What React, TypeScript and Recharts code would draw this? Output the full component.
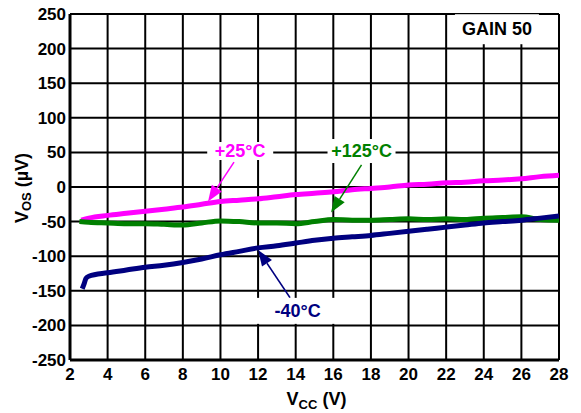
import React from 'react';
import {
  LineChart,
  Line,
  XAxis,
  YAxis,
  CartesianGrid,
  ReferenceLine,
  ReferenceDot,
  Label,
} from 'recharts';

const FONT = '"Liberation Sans", Arial, Helvetica, sans-serif';

// Supply voltage (V) and offset voltage (µV) for each temperature
const vcc25 = [2.6, 3, 4, 5, 6, 7, 8, 9, 10, 11, 12, 13, 14, 15, 16, 17, 18, 19, 20, 21, 22, 23, 24, 25, 26, 27, 28];
const vos25 = [-48, -45, -41, -38, -35, -32, -29, -25, -21, -19, -17, -14, -11, -9, -7, -4, -2, 0, 3, 4, 6, 7, 9, 10, 12, 15, 17];

const vcc125 = [2.5, 3, 4, 5, 6, 7, 8, 9, 10, 11, 12, 13, 14, 15, 16, 17, 18, 19, 20, 21, 22, 23, 24, 25, 26, 27, 28];
const vos125 = [-50, -51, -52, -53, -53, -54, -55, -52, -49, -50, -52, -52, -53, -50, -47, -48, -48, -47, -46, -47, -46, -47, -45, -44, -43, -47, -48];

const vccM40 = [2.65, 2.75, 2.85, 3, 4, 5, 6, 7, 8, 9, 10, 11, 12, 13, 14, 15, 16, 17, 18, 19, 20, 21, 22, 23, 24, 25, 26, 27, 28];
const vosM40 = [-147, -140, -132, -129, -124, -120, -116, -113, -109, -104, -98, -93, -88, -85, -81, -77, -74, -72, -70, -67, -64, -61, -58, -55, -52, -50, -48, -45, -42];

const xTicks = [2, 4, 6, 8, 10, 12, 14, 16, 18, 20, 22, 24, 26, 28];
const yTicks = [-250, -200, -150, -100, -50, 0, 50, 100, 150, 200, 250];

const toPoints = (xs: number[], ys: number[]) => xs.map((x, i) => ({ x, y: ys[i] }));

const series = [
  { name: '+25°C', color: '#FF00FF', data: toPoints(vcc25, vos25) },
  { name: '+125°C', color: '#008000', data: toPoints(vcc125, vos125) },
  { name: '-40°C', color: '#000080', data: toPoints(vccM40, vosM40) },
];

// Callout labels (data coordinates of label centre) with their white backing boxes
const callouts = [
  { text: '+25°C', color: '#FF00FF', x: 11.05, y: 52, w: 66, h: 18, dy: 6 },
  { text: '+125°C', color: '#008000', x: 17.5, y: 52, w: 68, h: 24, dy: 6 },
  { text: '-40°C', color: '#000080', x: 14.1, y: -179, w: 88, h: 26, dy: 6 },
  { text: 'GAIN 50', color: '#000000', x: 24.7, y: 228, w: 84, h: 30, dy: 6 },
];

// Pointer arrows: tail -> tip, in data coordinates
const arrows = [
  { color: '#FF00FF', from: { x: 10.72, y: 36 }, to: { x: 9.34, y: -21 } },
  { color: '#008000', from: { x: 17.5, y: 32 }, to: { x: 15.88, y: -37 } },
  { color: '#000080', from: { x: 13.7, y: -160 }, to: { x: 12.0, y: -91 } },
];

const arrowShape = (color: string) => (p: any) => {
  const { x1, y1, x2, y2 } = p;
  const dx = x2 - x1;
  const dy = y2 - y1;
  const len = Math.hypot(dx, dy) || 1;
  const ux = dx / len;
  const uy = dy / len;
  const hl = 16;
  const hw = 6;
  const bx = x2 - ux * hl;
  const by = y2 - uy * hl;
  const pts = `${x2},${y2} ${bx - uy * hw},${by + ux * hw} ${bx + uy * hw},${by - ux * hw}`;
  return (
    <g>
      <line x1={x1} y1={y1} x2={bx} y2={by} stroke={color} strokeWidth={1.5} />
      <polygon points={pts} fill={color} />
    </g>
  );
};

const calloutShape = (c: (typeof callouts)[number]) => (p: any) => {
  const { cx, cy } = p;
  return (
    <g>
      <rect x={cx - c.w / 2} y={cy - c.h / 2} width={c.w} height={c.h} fill="#FFFFFF" />
      <text
        x={cx}
        y={cy + c.dy}
        textAnchor="middle"
        fill={c.color}
        fontFamily={FONT}
        fontWeight="bold"
        fontSize={18}
      >
        {c.text}
      </text>
    </g>
  );
};

const tickStyle = { fill: '#000000', fontSize: 17, fontWeight: 'bold', fontFamily: FONT };

const YTitle = (props: any) => {
  const vb = props.viewBox || { x: 0, y: 0, width: 0, height: 0 };
  const cx = vb.x + 22;
  const cy = vb.y + vb.height / 2 + 1;
  return (
    <text
      x={cx}
      y={cy}
      transform={`rotate(-90, ${cx}, ${cy})`}
      textAnchor="middle"
      dominantBaseline="central"
      fill="#000000"
      fontFamily={FONT}
      fontWeight="bold"
      fontSize={18}
    >
      <tspan>V</tspan>
      <tspan fontSize={13} dy={4}>OS</tspan>
      <tspan dy={-4}> (µV)</tspan>
    </text>
  );
};

const XTitle = (props: any) => {
  const vb = props.viewBox || { x: 0, y: 0, width: 0, height: 0 };
  const cx = vb.x + vb.width / 2 + 2;
  const cy = vb.y + 45;
  return (
    <text
      x={cx}
      y={cy}
      textAnchor="middle"
      fill="#000000"
      fontFamily={FONT}
      fontWeight="bold"
      fontSize={18}
    >
      <tspan>V</tspan>
      <tspan fontSize={13} dy={4}>CC</tspan>
      <tspan dy={-4}> (V)</tspan>
    </text>
  );
};

export default function App() {
  return (
    <div style={{ position: 'absolute', left: 0, top: 0, background: '#FFFFFF' }}>
      <LineChart width={581} height={413} margin={{ top: 14, right: 22, bottom: 23, left: 0 }}>
        <CartesianGrid stroke="#000000" strokeWidth={2} />
        <XAxis
          type="number"
          dataKey="x"
          domain={[2, 28]}
          ticks={xTicks}
          allowDataOverflow
          height={30}
          tickSize={0}
          tickMargin={8}
          tick={tickStyle}
          axisLine={{ stroke: '#000000', strokeWidth: 3 }}
          tickLine={false}
          interval={0}
        >
          <Label content={XTitle} />
        </XAxis>
        <YAxis
          type="number"
          dataKey="y"
          domain={[-250, 250]}
          ticks={yTicks}
          allowDataOverflow
          width={70}
          tickSize={0}
          tickMargin={4}
          tick={tickStyle}
          axisLine={{ stroke: '#000000', strokeWidth: 3 }}
          tickLine={false}
          interval={0}
        >
          <Label content={YTitle} />
        </YAxis>
        {series.map((s) => (
          <Line
            key={s.name}
            name={s.name}
            data={s.data}
            dataKey="y"
            type="monotone"
            stroke={s.color}
            strokeWidth={5}
            dot={false}
            isAnimationActive={false}
          />
        ))}
        {arrows.map((a, i) => (
          <ReferenceLine
            key={`arrow-${i}`}
            segment={[a.from, a.to]}
            ifOverflow="visible"
            shape={arrowShape(a.color)}
          />
        ))}
        {callouts.map((c) => (
          <ReferenceDot
            key={c.text}
            x={c.x}
            y={c.y}
            r={1}
            ifOverflow="visible"
            shape={calloutShape(c)}
          />
        ))}
      </LineChart>
    </div>
  );
}
